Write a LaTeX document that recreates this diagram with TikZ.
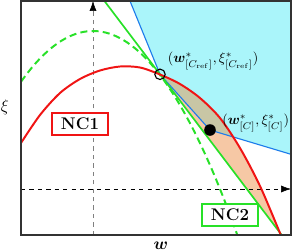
\documentclass[tikz,border=0pt]{standalone}
\usepackage{bm}
\usetikzlibrary{arrows.meta,positioning}

\definecolor{ncred}{RGB}{240,20,20}
\definecolor{ncgreen}{RGB}{40,225,40}
\definecolor{feasblue}{RGB}{30,125,235}
\definecolor{feascyan}{RGB}{170,245,250}
\definecolor{gappeach}{RGB}{246,200,165}
\definecolor{gapolive}{RGB}{200,198,165}

\begin{document}
\begin{tikzpicture}[x=0.025cm, y=-0.025cm, auto]
    % Define styles
    \tikzstyle{ncbox} = [draw, rectangle, fill=white, line width=1.2pt, minimum width=1.4cm, minimum height=0.55cm, inner sep=2pt, font=\large\bfseries]
    \tikzstyle{ptlabel} = [inner sep=0pt, font=\normalsize]
    \tikzstyle{axislabel} = [font=\large]
    \tikzstyle{axis} = [dashed, -{Latex[color=black, length=7pt, width=5pt]}]
    \tikzstyle{redcurve} = [ncred, line width=1.4pt]
    \tikzstyle{greenline} = [ncgreen, line width=1.2pt]
    \tikzstyle{greendash} = [ncgreen, line width=1.4pt, dash pattern=on 5pt off 3pt]
    \tikzstyle{bound} = [feasblue, line width=0.8pt]
    \tikzstyle{opendot} = [circle, draw, line width=0.8pt, minimum size=0.26cm, inner sep=0pt]
    \tikzstyle{fulldot} = [circle, fill, minimum size=0.29cm, inner sep=0pt]

    \useasboundingbox (0,0) rectangle (292,252);

    % Key points
    \coordinate (fl) at (21,235);
    \coordinate (fr) at (291,1);
    \coordinate (cref) at (160,74.3);
    \coordinate (cc) at (210,130);
    \coordinate (btop) at (130,1);
    \coordinate (bright) at (291,154.3);
    \coordinate (gtop) at (103.7,0);
    \coordinate (gbot) at (290,246);
    \coordinate (xo) at (21,189);
    \coordinate (xt) at (291,189);
    \coordinate (yo) at (93,235);
    \coordinate (yt) at (93,1);

    \def\redpath{plot[smooth] coordinates {(21,143) (40,115) (60,93) (80,79) (100,70.5) (120,66.5) (140,67.5) (160,74.5) (180,84) (200,98) (220,118) (240,148) (260,186) (280,233) (283,240)}}

    % Regions
    \begin{scope}
        \clip (fl) rectangle (fr);
        \fill[feascyan] (btop) -- (cref) -- (cc) -- (bright) -- (fr) -- cycle;
        \clip \redpath -- (300,300) -- (0,300) -- cycle;
        \fill[gappeach] (gtop) -- (gbot) -- (300,246) -- (300,0) -- cycle;
        \clip (btop) -- (cref) -- (cc) -- (bright) -- (fr) -- cycle;
        \fill[gapolive] (gtop) -- (gbot) -- (300,246) -- (300,0) -- cycle;
    \end{scope}

    % Boundary of the feasible set
    \draw[bound] (btop) -- (cref) -- (cc) -- (bright);

    % Axes
    \draw[axis, gray] (yo) -- (yt);
    \draw[axis, black] (xo) -- (xt);

    % Curves
    \begin{scope}
        \clip (fl) rectangle (fr);
        \draw[greendash] plot[domain=21:238, samples=60] (\x, {31+0.0098*(\x-93)*(\x-93)});
        \draw[greenline] (gtop) -- (gbot);
        \draw[redcurve] \redpath;
    \end{scope}

    % Points
    \node[opendot] (crefpt) at (cref) {};
    \node[fulldot] (cpt) at (cc) {};
    \node[ptlabel, above right=0pt and 0.09cm of crefpt] (creflabel) {$(\bm{w}^*_{[C_{\mathrm{ref}}]},\xi^*_{[C_{\mathrm{ref}}]})$};
    \node[ptlabel, right=0.15cm of cpt, yshift=0.18cm] (clabel) {$(\bm{w}^*_{[C]},\xi^*_{[C]})$};

    % Labels
    \node[ncbox, draw=ncred] (nc1) at (80,124) {NC1};
    \node[ncbox, draw=ncgreen] (nc2) at (230,215) {NC2};
    \node[axislabel] (xilabel) at (5,107) {$\xi$};
    \node[axislabel] (wlabel) at (161,246) {$\bm{w}$};

    % Frame
    \draw[line width=1pt, black!80] (fl) rectangle (fr);
\end{tikzpicture}
\end{document}
